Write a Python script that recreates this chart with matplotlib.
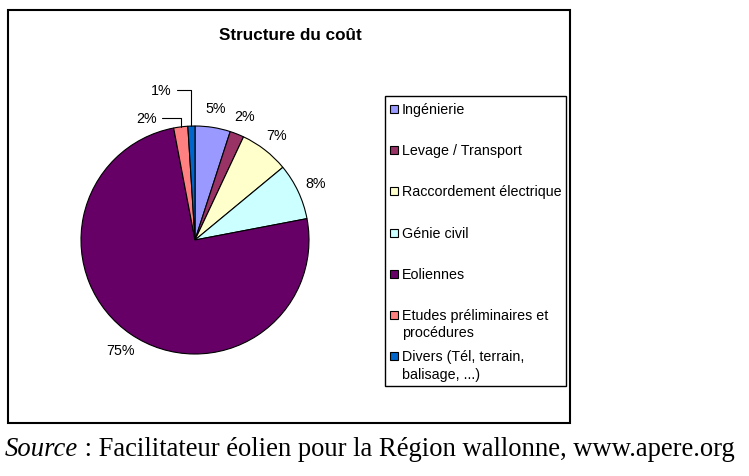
import numpy as np
import matplotlib.pyplot as plt
from matplotlib.patches import Rectangle

# data
categories = ["Ingénierie", "Levage / Transport", "Raccordement électrique",
              "Génie civil", "Eoliennes", "Etudes préliminaires et\nprocédures",
              "Divers (Tél, terrain,\nbalisage, ...)"]
shares = [5, 2, 7, 8, 75, 2, 1]
colors = ["#9999FF", "#993366", "#FFFFCC", "#CCFFFF", "#660066", "#FF8080", "#0066CC"]
title = "Structure du coût"
source_it = "Source"
source_rest = " : Facilitateur éolien pour la Région wallonne, www.apere.org"

W, H = 749, 477
plt.rcParams['font.family'] = ['Liberation Sans', 'DejaVu Sans']
fig = plt.figure(figsize=(W / 100, H / 100), dpi=100)

# overlay in pixel coordinates (y downwards)
ov = fig.add_axes([0, 0, 1, 1])
ov.set_xlim(0, W)
ov.set_ylim(H, 0)
ov.axis('off')

ov.add_patch(Rectangle((8, 11), 562, 413, fill=False, ec='black', lw=1.5))
ov.text(290, 35, title, ha='center', va='center', fontsize=12.3, fontweight='bold')

# legend box
ov.add_patch(Rectangle((385, 97), 181, 290, fill=False, ec='black', lw=1))
for i, (lab, c) in enumerate(zip(categories, colors)):
    yc = 110 + i * 41.2
    ov.add_patch(Rectangle((390, yc - 4), 8, 8, fc=c, ec='black', lw=0.8))
    for j, line in enumerate(lab.split("\n")):
        ov.text(402, yc + j * 17.5, line, ha='left', va='center', fontsize=10.3)

# source line
t1 = ov.text(5, 456, source_it, ha='left', va='baseline', fontsize=19.2,
             family='Liberation Serif', style='italic')
fig.canvas.draw()
bb = t1.get_window_extent()
x_end = bb.x1
ov.text(x_end, H - 456, source_rest, ha='left', va='baseline', fontsize=19.2,
        family='Liberation Serif', transform=None)

# pie
cx, cy, r = 195, 241, 114
ax = fig.add_axes([(cx - r) / W, (H - cy - r) / H, 2 * r / W, 2 * r / H])
wedges, _ = ax.pie(shares, colors=colors, startangle=90, counterclock=False,
                   wedgeprops=dict(edgecolor='black', linewidth=0.8))
ax.set_xlim(-1, 1)
ax.set_ylim(-1, 1)
ax.set_aspect('equal')

offsets = {5: (-24, 9), 6: (-20, 36)}
for i, (w, v) in enumerate(zip(wedges, shares)):
    a = np.deg2rad((w.theta1 + w.theta2) / 2)
    lab = f"{v}%"
    if i in offsets:
        ax.annotate(lab, xy=(np.cos(a), np.sin(a)), xytext=offsets[i],
                    textcoords='offset pixels', ha='right', va='center', fontsize=10.3,
                    arrowprops=dict(arrowstyle='-', color='black', lw=0.8,
                                    connectionstyle='angle,angleA=0,angleB=90,rad=0',
                                    shrinkA=2, shrinkB=0))
    else:
        d = 1.17
        ax.text(d * np.cos(a), d * np.sin(a), lab, ha='center', va='center', fontsize=10.3)

fig.savefig("out.png", dpi=100)
